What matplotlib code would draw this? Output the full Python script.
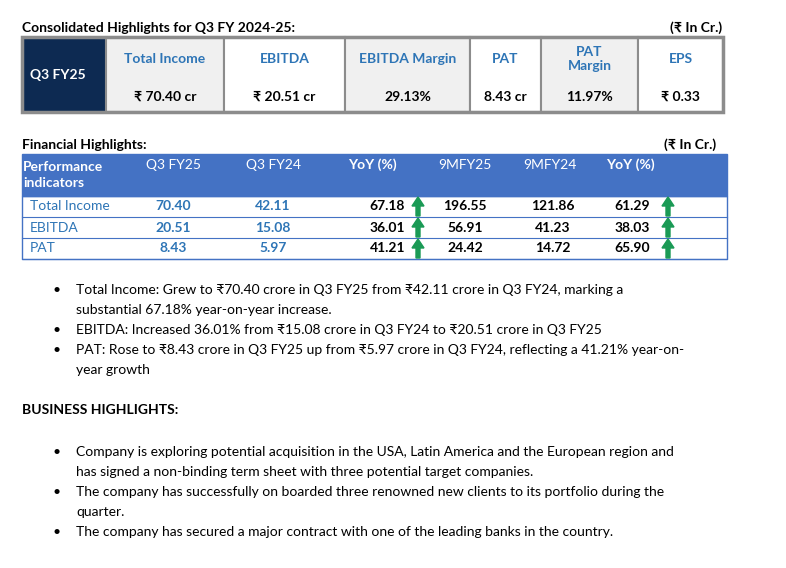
import matplotlib
matplotlib.use("Agg")
import matplotlib.pyplot as plt
from matplotlib.patches import Rectangle, FancyArrow

FONT = ["Lato", "DejaVu Sans"]
plt.rcParams['font.family'] = FONT

top_labels = ["Total Income", "EBITDA", "EBITDA Margin", "PAT", "PAT\nMargin", "EPS"]
top_values = ["₹ 70.40 cr", "₹ 20.51 cr", "29.13%", "8.43 cr", "11.97%", "₹ 0.33"]

fin_headers = ["Q3 FY25", "Q3 FY24", "YoY (%)", "9MFY25", "9MFY24", "YoY (%)"]
fin_rows = ["Total Income", "EBITDA", "PAT"]
q3fy25 = [70.40, 20.51, 8.43]
q3fy24 = [42.11, 15.08, 5.97]
yoy_q = [67.18, 36.01, 41.21]
m9fy25 = [196.55, 56.91, 24.42]
m9fy24 = [121.86, 41.23, 14.72]
yoy_9m = [61.29, 38.03, 65.90]

fin_bullets = [
    ["Total Income: Grew to ₹70.40 crore in Q3 FY25 from ₹42.11 crore in Q3 FY24, marking a",
     "substantial 67.18% year-on-year increase."],
    ["EBITDA: Increased 36.01% from ₹15.08 crore in Q3 FY24 to ₹20.51 crore in Q3 FY25"],
    ["PAT: Rose to ₹8.43 crore in Q3 FY25 up from ₹5.97 crore in Q3 FY24, reflecting a 41.21% year-on-",
     "year growth"],
]
biz_bullets = [
    ["Company is exploring potential acquisition in the USA, Latin America and the European region and",
     "has signed a non-binding term sheet with three potential target companies."],
    ["The company has successfully on boarded three renowned new clients to its portfolio during the",
     "quarter."],
    ["The company has secured a major contract with one of the leading banks in the country."],
]

fig = plt.figure(figsize=(7.86, 5.68), dpi=100)
ax = fig.add_axes([0, 0, 1, 1])
ax.set_xlim(0, 786); ax.set_ylim(568, 0); ax.axis('off')

BLUE = "#2e75b6"; NAVY = "#0d2a52"; GREEN = "#1a9a55"

# ---- top table
ax.text(22, 28, "Consolidated Highlights for Q3 FY 2024-25:", fontsize=10, fontweight='bold', va='center')
ax.text(722, 28, "(₹ In Cr.)", fontsize=10, fontweight='bold', va='center', ha='right')
edges = [106, 224, 345, 470, 541, 638, 723]
y0, ym, y1 = 37, 84, 112
ax.add_patch(Rectangle((23, y0), 83, y1 - y0, color=NAVY, zorder=1))
ax.text(58, 75, "Q3 FY25", color='white', fontsize=10, fontweight='bold', ha='center', va='center')
for i in range(6):
    xa, xb = edges[i], edges[i + 1]
    fc = "#f0f0f0" if i % 2 == 0 else "white"
    ax.add_patch(Rectangle((xa, y0), xb - xa, y1 - y0, facecolor=fc, edgecolor="#8c8c8c", lw=1.5, zorder=1))
    ax.text((xa + xb) / 2, 59, top_labels[i], color=BLUE, fontsize=10, fontweight='bold', ha='center', va='center',
            linespacing=1.3)
    ax.text((xa + xb) / 2, 97, top_values[i], color='black', fontsize=10, fontweight='bold', ha='center', va='center')
ax.add_patch(Rectangle((22, y0), 701, y1 - y0, fill=False, edgecolor="#8c8c8c", lw=2.5, zorder=2))

# ---- financial highlights
ax.text(22, 145, "Financial Highlights:", fontsize=10, fontweight='bold', va='center')
ax.text(716, 145, "(₹ In Cr.)", fontsize=10, fontweight='bold', va='center', ha='right')
ax.add_patch(Rectangle((22, 154), 705, 42, color="#4472c4", zorder=1))
ax.text(23, 175, "Performance\nindicators", color='white', fontsize=10, fontweight='bold', va='center', linespacing=1.4)
hx = [173, 273, 372, 465, 550, 630]
for j, h in enumerate(fin_headers):
    ax.text(hx[j], 165, h, color='white', fontsize=10, fontweight='bold' if 'YoY' in h else 'normal',
            ha='center', va='center')
rt = [196, 217, 238, 259]
ax.add_patch(Rectangle((22, 196), 705, 63, fill=False, edgecolor="#4472c4", lw=1, zorder=2))
for r in range(3):
    ax.plot([22, 727], [rt[r + 1], rt[r + 1]], color="#4472c4", lw=0.8)
    yc = (rt[r] + rt[r + 1]) / 2
    ax.text(30, yc, fin_rows[r], color=BLUE, fontsize=10, va='center')
    ax.text(173, yc, f"{q3fy25[r]:.2f}", color=BLUE, fontsize=10, fontweight='bold', ha='center', va='center')
    ax.text(273, yc, f"{q3fy24[r]:.2f}", color=BLUE, fontsize=10, fontweight='bold', ha='center', va='center')
    ax.text(405, yc, f"{yoy_q[r]:.2f}", fontsize=10, fontweight='bold', ha='right', va='center')
    ax.text(465, yc, f"{m9fy25[r]:.2f}", fontsize=10, fontweight='bold', ha='center', va='center')
    ax.text(553, yc, f"{m9fy24[r]:.2f}", fontsize=10, fontweight='bold', ha='center', va='center')
    ax.text(650, yc, f"{yoy_9m[r]:.2f}", fontsize=10, fontweight='bold', ha='right', va='center')
    for axx in (418, 668):
        ax.add_patch(FancyArrow(axx, rt[r + 1] - 1, 0, -(rt[r + 1] - rt[r] - 2), width=4, head_width=12,
                                head_length=9, length_includes_head=True, color=GREEN, zorder=3))

# ---- bullets
def bullets(items, ystart, step=20):
    y = ystart
    for lines in items:
        ax.text(52, y, "•", fontsize=10, va='center')
        for ln in lines:
            ax.text(76, y, ln, fontsize=10, va='center')
            y += step
    return y

bullets(fin_bullets, 290, 20)
ax.text(22, 410, "BUSINESS HIGHLIGHTS:", fontsize=10, fontweight='bold', va='center')
bullets(biz_bullets, 452, 20)

fig.savefig("out.png", dpi=100, facecolor='white')
